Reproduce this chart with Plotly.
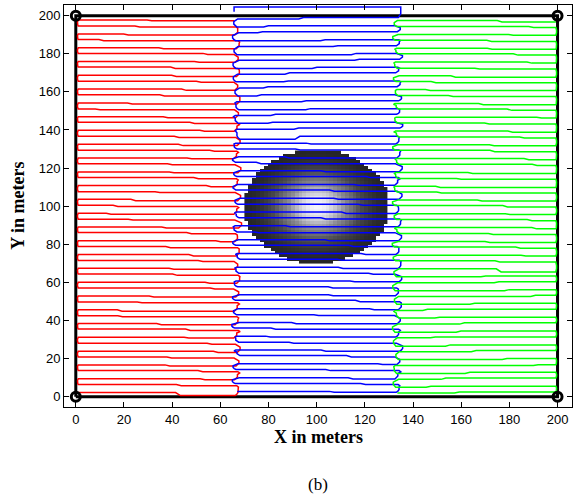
import numpy as np
import plotly.graph_objects as go

# ---------------- data ----------------
levels = [2.2, 5.8, 9.4, 13.1, 16.7, 20.3, 23.9, 27.5, 31.2, 34.8, 38.4,
          42.0, 45.6, 49.3, 52.9, 56.5, 60.1, 63.7, 67.4, 71.0, 74.6, 78.2,
          81.8, 85.5, 89.1, 92.7, 96.3, 99.9, 103.6, 107.2, 110.8, 114.4, 118.0,
          121.7, 125.3, 128.9, 132.5, 136.1, 139.8, 143.4, 147.0, 150.6, 154.2, 157.9,
          161.5, 165.1, 168.7, 172.3, 176.0, 179.6, 183.2, 186.8, 190.4, 194.1, 197.7]

step_frac = [0.62, 0.35, 0.78, 0.22, 0.55, 0.40, 0.85, 0.15, 0.68, 0.30, 0.50,
             0.72, 0.25, 0.60, 0.45, 0.12, 0.80, 0.38, 0.58, 0.20, 0.70, 0.42,
             0.88, 0.28, 0.52, 0.65, 0.18, 0.75, 0.33, 0.48, 0.82, 0.24, 0.57,
             0.40, 0.70, 0.14, 0.63, 0.36, 0.78, 0.27, 0.54, 0.86, 0.31, 0.46,
             0.66, 0.21, 0.59, 0.39, 0.74, 0.17, 0.51, 0.84, 0.29, 0.61, 0.44]

step_dy = [-1.6, 0.6, -0.5, 0.7, -0.6, 0.5, -0.7, 0.6, -0.4, 0.7, -0.6,
           0.5, -0.7, 0.4, -0.5, 0.6, -0.6, 0.7, -0.5, 0.5, -0.7, 0.6,
           -0.4, 0.7, -0.6, 0.5, -0.5, 0.6, -0.7, 0.4, -0.6, 0.7, -0.5,
           0.6, -0.4, 0.5, -0.7, 0.6, -0.5, 0.7, -0.6, 0.4, -0.5, 0.6,
           -0.7, 0.5, -0.6, 0.7, -0.4, 0.6, -0.5, 0.7, -0.6, 0.5, -0.4]

red_left = [1.0] * 55
red_right = [66.2, 66.8, 65.9, 67.3, 66.5, 65.7, 67.0, 66.3, 65.6, 67.5, 66.1,
             66.9, 65.8, 67.2, 66.4, 65.5, 66.8, 67.4, 66.0, 65.7, 66.6, 67.1,
             65.9, 66.3, 67.6, 66.0, 65.6, 66.9, 67.2, 66.2, 65.8, 66.7, 67.3,
             66.1, 65.5, 66.8, 67.0, 66.4, 65.7, 67.2, 66.3, 65.9, 66.9, 67.4,
             66.0, 65.6, 66.7, 67.1, 66.2, 65.8, 66.6, 67.3, 66.0, 66.5, 65.9]
blue_left = [67.0, 66.2, 67.8, 66.5, 67.3, 68.1, 66.4, 67.6, 66.9, 66.0, 67.9,
             66.7, 67.4, 66.3, 68.0, 67.1, 66.5, 67.7, 66.8, 68.2, 67.0, 66.4,
             67.5, 66.9, 66.1, 67.8, 66.6, 67.3, 68.0, 66.5, 67.2, 66.8, 67.9,
             66.3, 67.6, 67.0, 66.4, 68.1, 66.9, 67.4, 66.2, 67.7, 66.8, 67.3,
             68.0, 66.6, 67.1, 66.5, 67.8, 66.9, 67.4, 66.3, 67.6, 66.8, 67.2]
blue_right = [133.0, 133.8, 132.5, 134.2, 133.3, 132.4, 134.5, 133.1, 132.8, 134.0, 133.5,
              132.3, 133.9, 134.4, 132.7, 133.2, 134.1, 132.6, 133.7, 134.3, 132.9, 133.4,
              134.0, 132.5, 133.6, 134.4, 132.8, 133.1, 134.2, 133.5, 132.4, 133.9, 134.3,
              132.7, 133.3, 134.1, 132.9, 133.6, 134.5, 132.6, 133.2, 133.8, 134.0, 132.5,
              133.4, 134.2, 132.8, 133.7, 134.4, 132.9, 133.1, 134.0, 133.5, 132.6, 133.9]
green_left = [133.5, 132.8, 134.0, 133.2, 132.6, 133.9, 134.3, 132.9, 133.4, 132.5, 133.8,
              134.1, 132.7, 133.3, 134.0, 132.6, 133.6, 133.1, 134.2, 132.8, 133.5, 132.4,
              133.9, 134.3, 132.9, 133.2, 133.7, 132.5, 134.0, 133.4, 132.7, 133.8, 132.9,
              134.2, 133.3, 132.6, 133.6, 134.1, 132.8, 133.5, 133.0, 134.0, 132.5, 133.7,
              133.3, 132.9, 134.2, 133.4, 132.7, 133.9, 133.1, 132.6, 133.8, 133.2, 133.5]
green_right = [199.3] * 55

blue_top_y = 204.6          # extra return pass of the blue robot above the field
obstacle_center = (100.0, 100.0)
obstacle_radius = 30.0
field = [(0, 0), (200, 0), (200, 200), (0, 200), (0, 0)]
corners_x = [0, 200, 200, 0]
corners_y = [0, 0, 200, 200]
x_ticks = [0, 20, 40, 60, 80, 100, 120, 140, 160, 180, 200]
y_ticks = [0, 20, 40, 60, 80, 100, 120, 140, 160, 180, 200]


def build_path(xl, xr, offset, rot, bl, br):
    xs, ys = [], []
    n = len(levels)
    for k in range(n):
        y = levels[k] + offset
        j = (k + rot) % n
        if k % 2 == 0:
            x0, x1 = xl[k], xr[k]
        else:
            x0, x1 = xr[k], xl[k]
        d = 1 if x1 > x0 else -1
        sx = x0 + step_frac[j] * (x1 - x0)
        ye = y + step_dy[j]
        xs += [x0, sx, sx + 2.0 * d, x1]
        ys += [y, y, ye, ye]
        if k < n - 1:
            ny = levels[k + 1] + offset
            nx = xr[k + 1] if d > 0 else xl[k + 1]
            b = br if d > 0 else -bl
            g = ny - ye
            xs += [x1 + 0.6 * b, x1 + b, x1 + b, nx + 0.6 * b]
            ys += [ye + 0.15 * g, ye + 0.35 * g, ye + 0.65 * g, ny - 0.15 * g]
    return xs, ys


fig = go.Figure()

# field boundary
fig.add_trace(go.Scatter(x=[p[0] for p in field], y=[p[1] for p in field], mode="lines",
                         line=dict(color="black", width=3), hoverinfo="skip", showlegend=False))

# obstacle (shaded sphere)
cx, cy = obstacle_center
gx = np.arange(cx - obstacle_radius + 0.8, cx + obstacle_radius, 1.6)
gy = np.arange(cy - obstacle_radius + 0.8, cy + obstacle_radius, 1.6)
GX, GY = np.meshgrid(gx, gy)
rr = np.sqrt((GX - cx) ** 2 + (GY - cy) ** 2) / obstacle_radius
shade = np.where(rr <= 1.0, np.clip(1 - rr ** 2, 0, 1) ** 2.2, np.nan)
fig.add_trace(go.Heatmap(x=gx, y=gy, z=shade, zmin=0, zmax=1, showscale=False,
                         colorscale=[[0, "#262626"], [0.35, "#4a4a4e"], [0.7, "#8c8c94"],
                                     [1, "#f4f4fc"]],
                         hoverinfo="skip", zsmooth=False))

# robot paths
rx, ry = build_path(red_left, red_right, 0.0, 0, 0.3, 1.2)
bx, by = build_path(blue_left, blue_right, 0.6, 18, 1.2, 1.2)
bx += [bx[-1] + 1.0, bx[-1] + 1.0, blue_left[-1] - 1.5, blue_left[-1] - 1.5]
by += [by[-1] + 2.0, blue_top_y, blue_top_y, blue_top_y - 2.5]
gxp, gyp = build_path(green_left, green_right, -0.3, 37, 1.0, 0.3)

for xs, ys, col in [(rx, ry, "#ff0000"), (bx, by, "#0000ff"), (gxp, gyp, "#00ff00")]:
    fig.add_trace(go.Scatter(x=xs, y=ys, mode="lines", line=dict(color=col, width=1.5),
                             hoverinfo="skip", showlegend=False))

# corner markers
fig.add_trace(go.Scatter(x=corners_x, y=corners_y, mode="markers",
                         marker=dict(symbol="circle-open", size=9, color="black",
                                     line=dict(width=3, color="black")),
                         hoverinfo="skip", showlegend=False))

axis_common = dict(showgrid=False, zeroline=False, showline=True, linecolor="black",
                   linewidth=1, mirror="ticks", ticks="inside", ticklen=5,
                   tickcolor="black", automargin=False,
                   tickfont=dict(family="Liberation Sans, Arial", size=13, color="black"))
fig.update_layout(
    width=584, height=502,
    margin=dict(l=64, r=12, t=5, b=95, autoexpand=False),
    paper_bgcolor="white", plot_bgcolor="white",
    xaxis=dict(range=[-4.9, 206], tickvals=x_ticks, **axis_common),
    yaxis=dict(range=[-5.4, 205.6], tickvals=y_ticks, **axis_common),
    annotations=[
        dict(text="<b>X in meters</b>", x=0.5, y=-0.075, xref="paper", yref="paper",
             showarrow=False, xanchor="center", yanchor="middle",
             font=dict(family="Liberation Serif, Times New Roman", size=18, color="black")),
        dict(text="<b>Y in meters</b>", x=-0.091, y=0.5, xref="paper", yref="paper",
             showarrow=False, xanchor="center", yanchor="middle", textangle=-90,
             font=dict(family="Liberation Serif, Times New Roman", size=18, color="black")),
        dict(text="(b)", x=0.5, y=-0.194, xref="paper", yref="paper",
             showarrow=False, xanchor="center", yanchor="middle",
             font=dict(family="Liberation Serif, Times New Roman", size=17, color="black")),
    ],
)

fig.write_html("out.html", config={"displayModeBar": False},
               post_script="document.body.style.margin='0px';document.body.style.padding='0px';")
